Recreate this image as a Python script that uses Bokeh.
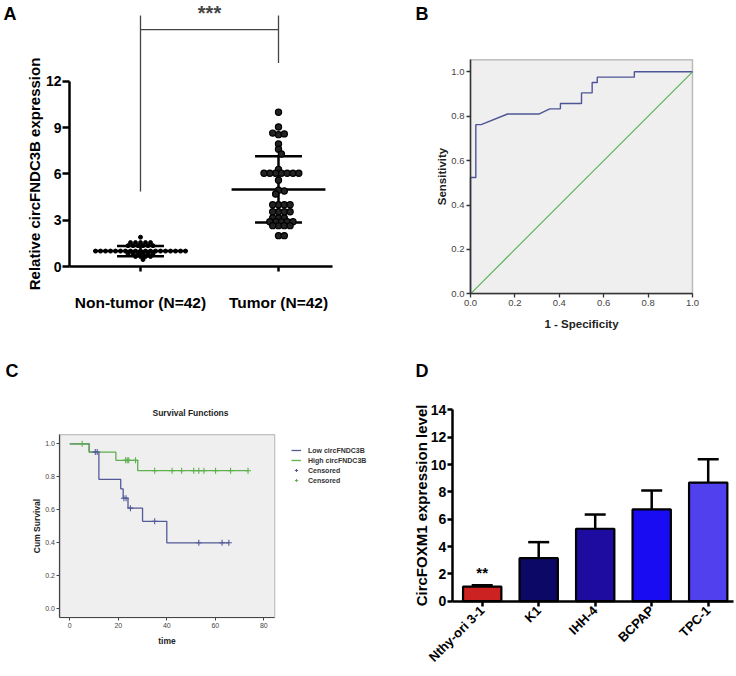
import numpy as np
from bokeh.plotting import figure
from bokeh.layouts import row, column
from bokeh.models import (Range1d, FixedTicker, Label, Legend, LegendItem, BoxAnnotation,
                          ColumnDataSource, Whisker, TeeHead, NumeralTickFormatter)
from bokeh.core.properties import value
from bokeh.embed import file_html
from bokeh.resources import INLINE

FONT = "Liberation Sans"

# ---------------- Panel A data ----------------
group_labels_A = ["Non-tumor (N=42)", "Tumor (N=42)"]
nontumor = [1.9] + [1.55] * 5 + [1.35] * 6 + [1.0] * 19 + [0.82] * 6 + [0.65] * 4 + [0.45]
tumor = ([10.0, 9.05, 8.55, 8.6, 8.65, 7.95, 7.6, 7.3, 6.3] + [6.05] * 7 +
         [5.6, 4.95, 4.9, 4.7] + [4.0] * 4 + [3.55] * 4 + [3.15] * 3 +
         [2.9] * 5 + [2.65] * 4 + [2.0] * 2)
mean_A = [1.0, 5.0]
sd_A = [0.33, 2.15]
sig_A = "***"
bracket_y = 15.36
bracket_top = 16.28
bracket_drop = [4.86, 13.2]
ticks_A = [0, 3, 6, 9, 12]

# ---------------- Panel B data ----------------
roc_fpr = [0, 0, 0.024, 0.024, 0.048, 0.167, 0.31, 0.357, 0.405, 0.405, 0.5, 0.5,
           0.548, 0.548, 0.571, 0.571, 0.738, 0.738, 1.0]
roc_tpr = [0, 0.524, 0.524, 0.762, 0.762, 0.81, 0.81, 0.833, 0.833, 0.857, 0.857, 0.905,
           0.905, 0.952, 0.952, 0.976, 0.976, 1.0, 1.0]
ref_line = [0.0, 1.0]
ticks_B = [0.0, 0.2, 0.4, 0.6, 0.8, 1.0]

# ---------------- Panel C data ----------------
low_times = [0, 8, 12, 21, 22, 24, 30, 40, 65.6]
low_surv = [1.0, 0.95, 0.785, 0.727, 0.67, 0.61, 0.53, 0.40, 0.40]
high_times = [0, 8, 19, 28, 73.5]
high_surv = [1.0, 0.95, 0.90, 0.837, 0.837]
low_censor = [10.5, 11.3, 22.3, 23.2, 25, 35, 53.2, 62.8, 65.6]
high_censor = [5.1, 23, 23.7, 24.3, 27.1, 35, 42.2, 46.1, 51.1, 53.2, 55.3, 60.1, 66.3, 73.5]
ticks_Cx = [0, 20, 40, 60, 80]
ticks_Cy = [0.0, 0.2, 0.4, 0.6, 0.8, 1.0]

# ---------------- Panel D data ----------------
cells = ["Nthy-ori 3-1", "K1", "IHH-4", "BCPAP", "TPC-1"]
expr = [1.07, 3.15, 5.3, 6.71, 8.68]
expr_err = [0.1, 1.17, 1.04, 1.39, 1.71]
bar_colors = ["#cc2222", "#0c0866", "#1e0ca0", "#1a0cf2", "#5040ee"]
sig_D = "**"
ticks_D = [0, 2, 4, 6, 8, 10, 12, 14]

BLUE_KM = "#545a98"
GREEN_KM = "#5fb04f"


def swarm_offsets(vals, ypx, step_px, coll_px):
    placed, out = [], []
    h = step_px / 2.0
    cands = [0.0]
    for i in range(1, 120):
        cands += [i * h, -i * h]
    for v in vals:
        y = v * ypx
        for c in cands:
            if all((c - px) ** 2 + (y - py) ** 2 >= coll_px ** 2 for px, py in placed):
                break
        placed.append((c, y))
        out.append(c)
    return np.array(out)


def make_fig(w, h, xr, yr):
    p = figure(width=w, height=h, x_range=Range1d(*xr), y_range=Range1d(*yr),
               output_backend="svg", toolbar_location=None,
               min_border_left=0, min_border_right=0, min_border_top=0, min_border_bottom=0)
    p.outline_line_color = None
    p.grid.visible = False
    p.xaxis.minor_tick_line_color = None
    p.yaxis.minor_tick_line_color = None
    p.xaxis.major_tick_in = 0
    p.yaxis.major_tick_in = 0
    return p


def letter(p, x, y, t):
    p.add_layout(Label(x=x, y=y, text=t, text_align="left", text_baseline="top",
                       text_font=FONT, text_font_size="18px", text_font_style="bold",
                       text_color="black"))


# ================= Panel A =================
XPX_A, YPX_A = 138.0, 15.42
A_x0 = 1 - 140 / XPX_A
A_y0 = -(338 - 266) / YPX_A
pA = make_fig(370, 338, (A_x0, A_x0 + 370 / XPX_A), (A_y0, A_y0 + 338 / YPX_A))
A_left = 1 - 71 / XPX_A
A_right = A_left + 263 / XPX_A
pA.yaxis.fixed_location = A_left
pA.xaxis.fixed_location = 0
pA.yaxis.bounds = (0, 12)
pA.xaxis.bounds = (A_left, A_right)
pA.yaxis.ticker = FixedTicker(ticks=ticks_A)
pA.xaxis.ticker = FixedTicker(ticks=[1, 2])
pA.xaxis.major_label_overrides = {1: group_labels_A[0], 2: group_labels_A[1]}
for ax in (pA.xaxis, pA.yaxis):
    ax.axis_line_width = 2.5
    ax.major_tick_line_width = 2.5
    ax.axis_line_color = "black"
    ax.major_tick_line_color = "black"
    ax.major_label_text_font = FONT
    ax.major_label_text_font_style = "bold"
    ax.major_label_text_color = "black"
pA.yaxis.major_tick_out = 7
pA.yaxis.major_label_text_font_size = "14px"
pA.yaxis.major_label_standoff = 1
pA.xaxis.major_tick_out = 5
pA.xaxis.major_label_text_font_size = "15.5px"
pA.xaxis.major_label_standoff = 22
pA.yaxis.axis_label = "Relative circFNDC3B expression"
pA.yaxis.axis_label_text_font = FONT
pA.yaxis.axis_label_text_font_size = "15px"
pA.yaxis.axis_label_text_font_style = "bold"
pA.yaxis.axis_label_text_color = "black"
pA.yaxis.axis_label_standoff = 0

nt_x = 1 + swarm_offsets(nontumor, YPX_A, 5.0, 3.2) / XPX_A
tu_x = 2 + swarm_offsets(tumor, YPX_A, 5.8, 4.8) / XPX_A

g = np.array([1, 2])
m = np.array(mean_A)
s = np.array(sd_A)
pA.segment(x0=g - 0.34, y0=m, x1=g + 0.34, y1=m, line_color="black", line_width=2.5)
pA.segment(x0=np.r_[g - 0.17, g - 0.17], y0=np.r_[m + s, m - s],
           x1=np.r_[g + 0.17, g + 0.17], y1=np.r_[m + s, m - s], line_color="black", line_width=2.5)
pA.segment(x0=g, y0=m - s, x1=g, y1=m + s, line_color="black", line_width=2.5)
pA.scatter(nt_x, nontumor, size=4, marker="circle", fill_color="black", line_color="black")
pA.scatter(tu_x, tumor, size=6.2, marker="circle", fill_color="#222222", line_color="black",
           line_width=1.2)
pA.segment(x0=[1, 1, 2], y0=[bracket_y, bracket_top, bracket_top],
           x1=[2, 1, 2], y1=[bracket_y, bracket_drop[0], bracket_drop[1]],
           line_color="#444444", line_width=1.3)
pA.add_layout(Label(x=1.5, y=(266 - 12) / YPX_A, text=sig_A, text_align="center",
                    text_baseline="middle", text_font=FONT, text_font_size="20px",
                    text_font_style="bold", text_color="#444444"))
letter(pA, A_x0 + 3 / XPX_A, (266 - 3.5) / YPX_A, "A")

# ================= Panel B =================
PX_B = 222.0
B_x0 = -100 / PX_B
B_y0 = -(338 - 293.3) / PX_B
pB = make_fig(364, 338, (B_x0, B_x0 + 364 / PX_B), (B_y0, B_y0 + 338 / PX_B))
B_top = 1.054
pB.add_layout(BoxAnnotation(left=0, right=1, bottom=0, top=B_top, fill_color="#efefef",
                            fill_alpha=1, line_color="#333333", line_width=1.5, level="underlay"))
pB.xaxis.fixed_location = 0
pB.yaxis.fixed_location = 0
pB.xaxis.bounds = (0, 1)
pB.yaxis.bounds = (0, B_top)
pB.xaxis.ticker = FixedTicker(ticks=ticks_B)
pB.yaxis.ticker = FixedTicker(ticks=ticks_B)
for ax in (pB.xaxis, pB.yaxis):
    ax.formatter = NumeralTickFormatter(format="0.0")
    ax.axis_line_color = "#333333"
    ax.axis_line_width = 1.5
    ax.major_tick_line_color = "#333333"
    ax.major_tick_line_width = 1.3
    ax.major_tick_out = 4
    ax.major_label_standoff = 2
    ax.major_label_text_font = FONT
    ax.major_label_text_font_size = "9.5px"
    ax.major_label_text_color = "#444444"
    ax.axis_label_text_font = FONT
    ax.axis_label_text_font_size = "11.5px"
    ax.axis_label_text_font_style = "bold"
    ax.axis_label_text_color = "#222222"
pB.yaxis.axis_label = "Sensitivity"
pB.yaxis.axis_label_standoff = 0
pB.xaxis.axis_label = "1 - Specificity"
pB.xaxis.axis_label_standoff = 9
pB.line(ref_line, ref_line, line_color="#5db55d", line_width=1.2)
pB.line(roc_fpr, roc_tpr, line_color="#4e5596", line_width=1.4)
letter(pB, B_x0 + 45 / PX_B, (293.3 - 3) / PX_B, "B")

# ================= Panel C =================
XPX_C, YPX_C = 2.425, 165.0
C_x0 = -69.3 / XPX_C
C_y0 = -(336 - 270.3) / YPX_C
pC = make_fig(370, 336, (C_x0, C_x0 + 370 / XPX_C), (C_y0, C_y0 + 336 / YPX_C))
C_box = (-4.1, 84.5, -0.053, 1.056)
pC.add_layout(BoxAnnotation(left=C_box[0], right=C_box[1], bottom=C_box[2], top=C_box[3],
                            fill_color="#efefef", fill_alpha=1, line_color="#444444",
                            line_width=1.2, level="underlay"))
pC.xaxis.fixed_location = C_box[2]
pC.yaxis.fixed_location = C_box[0]
pC.xaxis.bounds = (C_box[0], C_box[1])
pC.yaxis.bounds = (C_box[2], C_box[3])
pC.xaxis.ticker = FixedTicker(ticks=ticks_Cx)
pC.yaxis.ticker = FixedTicker(ticks=ticks_Cy)
pC.yaxis.formatter = NumeralTickFormatter(format="0.0")
for ax in (pC.xaxis, pC.yaxis):
    ax.axis_line_color = "#444444"
    ax.axis_line_width = 1.2
    ax.major_tick_line_color = "#444444"
    ax.major_tick_out = 3
    ax.major_label_standoff = 2
    ax.major_label_text_font = FONT
    ax.major_label_text_font_size = "7px"
    ax.major_label_text_color = "#444444"
    ax.axis_label_text_font = FONT
    ax.axis_label_text_font_size = "8.5px"
    ax.axis_label_text_font_style = "bold"
    ax.axis_label_text_color = "#222222"
pC.yaxis.axis_label = "Cum Survival"
pC.yaxis.axis_label_standoff = 0
pC.xaxis.axis_label = "time"
pC.xaxis.axis_label_standoff = 5

r_low = pC.step(low_times, low_surv, mode="after", line_color=BLUE_KM, line_width=1.3)
r_high = pC.step(high_times, high_surv, mode="after", line_color=GREEN_KM, line_width=1.3)


def surv_at(times, surv, t):
    idx = np.searchsorted(np.array(times, dtype=float), np.array(t, dtype=float), side="right") - 1
    return np.array(surv)[idx]


r_lc = pC.scatter(low_censor, surv_at(low_times, low_surv, low_censor), marker="cross",
                  size=6, line_color=BLUE_KM, line_width=1.1)
r_hc = pC.scatter(high_censor, surv_at(high_times, high_surv, high_censor), marker="cross",
                  size=6, line_color=GREEN_KM, line_width=1.1)

legend = Legend(items=[LegendItem(label="Low circFNDC3B", renderers=[r_low]),
                       LegendItem(label="High circFNDC3B", renderers=[r_high]),
                       LegendItem(label="Censored", renderers=[r_lc]),
                       LegendItem(label="Censored", renderers=[r_hc])],
                location=(291, 190), padding=2, margin=0, spacing=2,
                label_height=8, glyph_height=8, glyph_width=10, label_standoff=7,
                label_text_font=FONT, label_text_font_size="7px",
                label_text_font_style="bold", label_text_color="#333333",
                background_fill_alpha=0, border_line_color=None)
pC.add_layout(legend)
pC.add_layout(Label(x=(190 - 69.3) / XPX_C, y=(270.3 - 74.7) / YPX_C, text="Survival Functions",
                    text_align="center", text_baseline="middle", text_font=FONT,
                    text_font_size="8.5px", text_font_style="bold", text_color="#222222"))
letter(pC, C_x0 + 5 / XPX_C, (270.3 - 22) / YPX_C, "C")

# ================= Panel D =================
XPX_D, YPX_D = 56.5, 13.67
D_x0 = -111.7 / XPX_D
D_y0 = -(336 - 262.7) / YPX_D
pD = make_fig(364, 336, (D_x0, D_x0 + 364 / XPX_D), (D_y0, D_y0 + 336 / YPX_D))
idx_D = list(range(len(cells)))
D_left = -30 / XPX_D
D_right = D_left + 281 / XPX_D
pD.yaxis.fixed_location = D_left
pD.xaxis.fixed_location = 0
pD.yaxis.bounds = (0, 14)
pD.xaxis.bounds = (D_left, D_right)
pD.yaxis.ticker = FixedTicker(ticks=ticks_D)
pD.xaxis.ticker = FixedTicker(ticks=idx_D)
pD.xaxis.major_label_overrides = {i: c for i, c in zip(idx_D, cells)}
for ax in (pD.xaxis, pD.yaxis):
    ax.axis_line_color = "black"
    ax.axis_line_width = 2.5
    ax.major_tick_line_color = "black"
    ax.major_tick_line_width = 2.5
    ax.major_tick_out = 5
    ax.major_label_text_font = FONT
    ax.major_label_text_font_style = "bold"
    ax.major_label_text_color = "black"
pD.yaxis.major_label_text_font_size = "14px"
pD.yaxis.major_label_standoff = 1
pD.xaxis.major_label_text_font_size = "13px"
pD.xaxis.major_label_standoff = 2
pD.xaxis.major_label_orientation = np.pi / 4
pD.yaxis.axis_label = "CircFOXM1 expression level"
pD.yaxis.axis_label_text_font = FONT
pD.yaxis.axis_label_text_font_size = "15px"
pD.yaxis.axis_label_text_font_style = "bold"
pD.yaxis.axis_label_text_color = "black"
pD.yaxis.axis_label_standoff = -2

srcD = ColumnDataSource(dict(x=idx_D, top=expr, color=bar_colors,
                             upper=[e + d for e, d in zip(expr, expr_err)]))
pD.add_layout(Whisker(source=srcD, base="x", lower="top", upper="upper", line_width=2.5,
                      line_color="black", lower_head=None,
                      upper_head=TeeHead(size=21, line_width=2.5, line_color="black")))
pD.vbar(x="x", top="top", width=0.678, source=srcD, fill_color="color", line_color="black",
        line_width=2.2)
pD.text(x=[idx_D[0]], y=[expr[0] + expr_err[0] + 0.95], text=[sig_D], text_align="center",
        text_baseline="middle", text_font=value(FONT), text_font_size="15px",
        text_font_style="bold", text_color="black")
letter(pD, D_x0 + 45 / XPX_D, (262.7 - 22) / YPX_D, "D")

layout = column(row(pA, pB), row(pC, pD))
open("out.html", "w").write(file_html(layout, INLINE))
